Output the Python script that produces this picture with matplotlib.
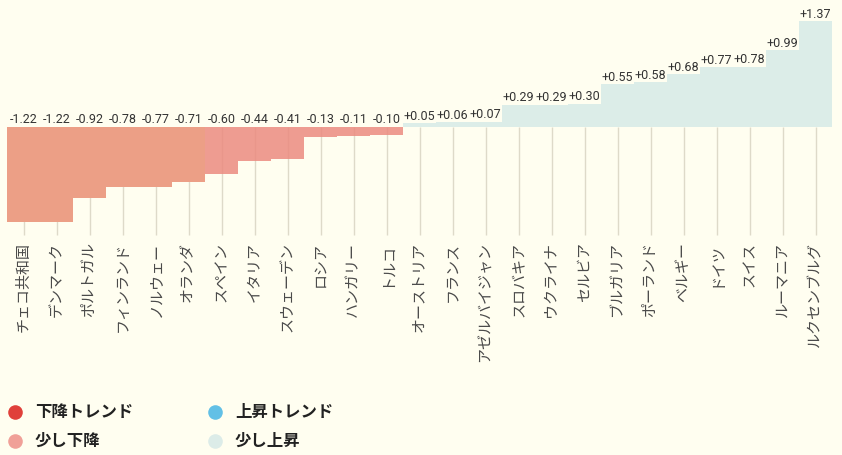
import matplotlib
matplotlib.use('Agg')
import matplotlib.pyplot as plt

countries = ['チェコ共和国', 'デンマーク', 'ポルトガル', 'フィンランド', 'ノルウェー', 'オランダ',
             'スペイン', 'イタリア', 'スウェーデン', 'ロシア', 'ハンガリー', 'トルコ',
             'オーストリア', 'フランス', 'アゼルバイジャン', 'スロバキア', 'ウクライナ', 'セルビア',
             'ブルガリア', 'ポーランド', 'ベルギー', 'ドイツ', 'スイス', 'ルーマニア', 'ルクセンブルグ']
values = [-1.22, -1.22, -0.92, -0.78, -0.77, -0.71,
          -0.60, -0.44, -0.41, -0.13, -0.11, -0.10,
          0.05, 0.06, 0.07, 0.29, 0.29, 0.30,
          0.55, 0.58, 0.68, 0.77, 0.78, 0.99, 1.37]
# trend group of each country
groups = ['down'] * 6 + ['slight_down'] * 6 + ['slight_up'] * 13

legend_labels = ['下降トレンド', '少し下降', '上昇トレンド', '少し上昇']
legend_keys = ['strong_down', 'slight_down', 'strong_up', 'slight_up']

bg = '#fffef0'
bar_colors = {'down': '#ec9f86', 'slight_down': '#ec8b80', 'slight_up': '#dcede8'}
bar_alpha = {'down': 1.0, 'slight_down': 0.85, 'slight_up': 1.0}
legend_colors = {'strong_down': '#e0403a', 'slight_down': '#f0a098',
                 'strong_up': '#62c0e6', 'slight_up': '#dcece8'}

W, H = 842, 456
px_x = 33.0      # pixels per bar
px_y = 77.5      # pixels per unit value
x0_px = 7        # left edge of first bar
base_px = 128    # zero line from top

fig = plt.figure(figsize=(W / 100, H / 100), dpi=100)
fig.patch.set_facecolor(bg)
ax = fig.add_axes([0, 0, 1, 1])
ax.set_facecolor(bg)
ax.axis('off')
ax.set_xlim(-0.5 - x0_px / px_x, -0.5 - x0_px / px_x + W / px_x)
ax.set_ylim(-(H - base_px) / px_y, base_px / px_y)

xs = list(range(len(values)))
line_end = -(236 - base_px) / px_y
label_top = -(242 - base_px) / px_y

for x, v, g, name in zip(xs, values, groups, countries):
    ax.plot([x, x], [0, line_end], color='#dedac9', lw=1, zorder=1, solid_capstyle='butt')
    ax.bar(x, v, width=1.0, color=bar_colors[g], alpha=bar_alpha[g], linewidth=0, zorder=2)
    txt = '%+.2f' % v
    ty = 0.065 if v < 0 else v + 0.055
    ax.text(x, ty, txt, ha='center', va='baseline', fontsize=9, color='#333333',
            family=['Roboto', 'DejaVu Sans'], zorder=5)
    ax.text(x, label_top, name, rotation=90, ha='center', va='top', fontsize=10.8,
            color='#4a4a4a', family=['Noto Sans CJK JP', 'DejaVu Sans'])

# legend
legend_pos = [(15, 413, 35, 412), (15, 442, 35, 441), (215, 413, 235, 412), (215, 442, 235, 441)]
for key, lab, (cx, cy, tx, tyy) in zip(legend_keys, legend_labels, legend_pos):
    ax.plot([cx / W], [1 - cy / H], 'o', markersize=10.5, color=legend_colors[key],
            markeredgewidth=0, transform=fig.transFigure, clip_on=False)
    fig.text(tx / W, 1 - tyy / H, lab, ha='left', va='center', fontsize=11.8,
             fontweight='bold', color='#222222', family=['Noto Sans CJK JP', 'DejaVu Sans'])

fig.savefig('out.png', dpi=100, facecolor=bg)
